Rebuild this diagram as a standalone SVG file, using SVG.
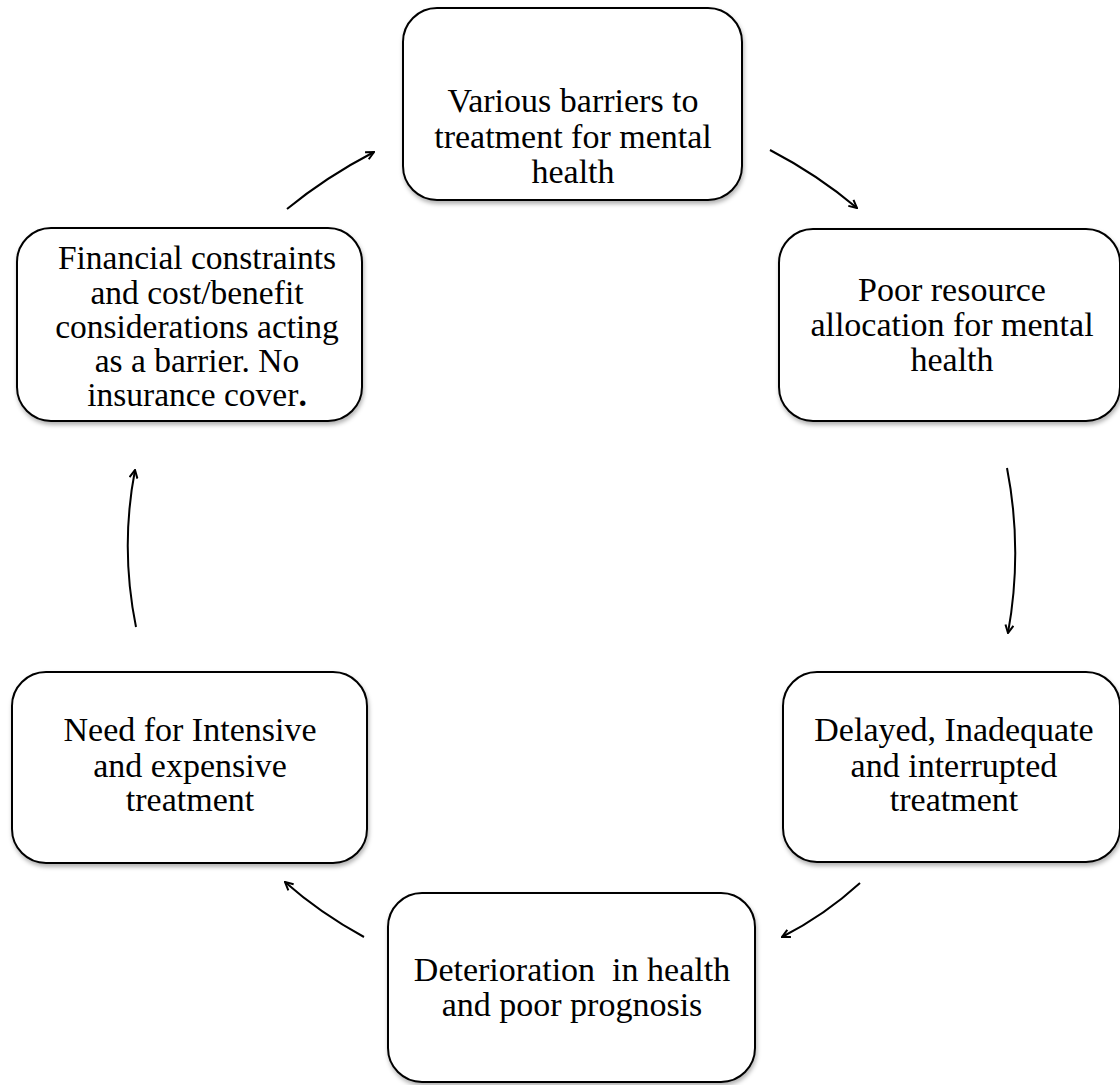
<svg xmlns="http://www.w3.org/2000/svg" width="1120" height="1085" viewBox="0 0 1120 1085">
<style>
.box{fill:#fff;stroke:#000;stroke-width:2;filter:url(#sh)}
.t{font-size:34px;fill:#000;text-anchor:middle;white-space:pre}
.s{font-size:33.5px}
.c{fill:none;stroke:#000;stroke-width:2;marker-end:url(#ah)}
</style>
<defs>
<filter id="sh" x="-10%" y="-10%" width="120%" height="125%">
<feDropShadow dx="1" dy="3" stdDeviation="2" flood-color="#000" flood-opacity="0.3"/>
</filter>
<marker id="ah" viewBox="0 0 10 10" refX="9" refY="5" markerWidth="10" markerHeight="10" markerUnits="userSpaceOnUse" orient="auto">
<path d="M1,1 L9,5 L1,9" fill="none" stroke="#000" stroke-width="2"/>
</marker>
</defs>
<rect width="1120" height="1085" fill="#fff"/>
<g id="connectors">
<path class="c" d="M287,209 Q326,177 374,152"/>
<path class="c" d="M770,150 Q818,175 857,208"/>
<path class="c" d="M1007,468 Q1023,550 1008,633"/>
<path class="c" d="M860,883 Q825,915 782,937"/>
<path class="c" d="M364,937 Q320,913 285,882"/>
<path class="c" d="M136,627 Q120,548 135,470"/>
</g>
<g id="nodes" font-family="Liberation Serif, Times New Roman, Times, DejaVu Serif, serif">
<g id="n1">
<rect class="box" x="403" y="8" width="339" height="192" rx="34"/>
<text class="t" x="573" y="112">Various barriers to</text>
<text class="t" x="573" y="148">treatment for mental</text>
<text class="t" x="573" y="183">health</text>
</g>
<g id="n2">
<rect class="box" x="779" y="229" width="341" height="192" rx="34"/>
<text class="t" x="952" y="301">Poor resource</text>
<text class="t" x="952" y="336">allocation for mental</text>
<text class="t" x="952" y="371">health</text>
</g>
<g id="n3">
<rect class="box" x="783" y="672" width="337" height="190" rx="34"/>
<text class="t" x="954" y="741">Delayed, Inadequate</text>
<text class="t" x="954" y="777">and interrupted</text>
<text class="t" x="954" y="811">treatment</text>
</g>
<g id="n4">
<rect class="box" x="388" y="893" width="367" height="189" rx="34"/>
<text class="t" x="572" y="981">Deterioration  in health</text>
<text class="t" x="572" y="1016">and poor prognosis</text>
</g>
<g id="n5">
<rect class="box" x="12" y="672" width="355" height="191" rx="34"/>
<text class="t" x="190" y="741">Need for Intensive</text>
<text class="t" x="190" y="777">and expensive</text>
<text class="t" x="190" y="811">treatment</text>
</g>
<g id="n6">
<rect class="box" x="17" y="228" width="345" height="193" rx="34"/>
<text class="t s" x="197" y="269">Financial constraints</text>
<text class="t s" x="197" y="304">and cost/benefit</text>
<text class="t s" x="197" y="338">considerations acting</text>
<text class="t s" x="197" y="372">as a barrier. No</text>
<text class="t s" x="197" y="406">insurance cover<tspan font-weight="bold">.</tspan></text>
</g>
</g>
</svg>
